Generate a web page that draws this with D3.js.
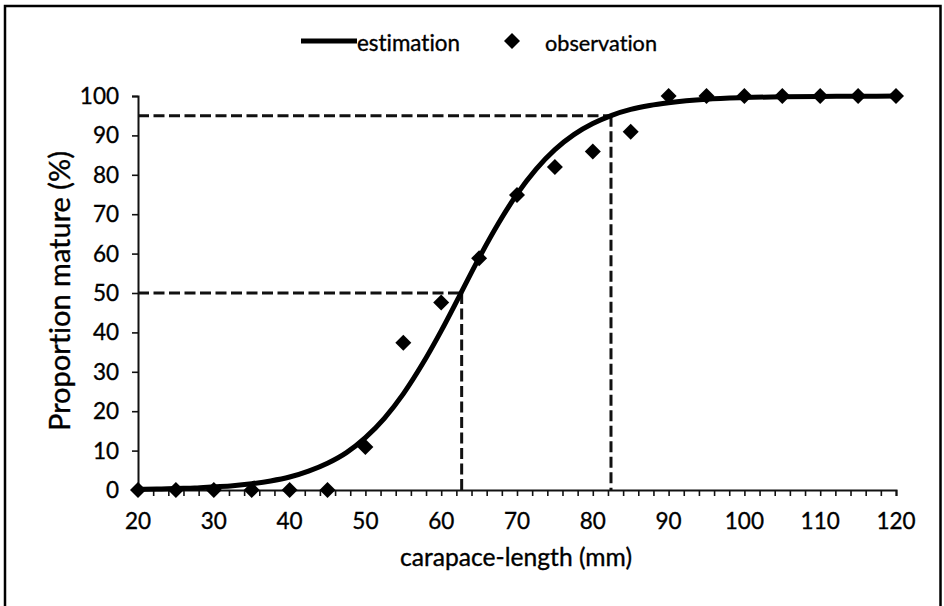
<!DOCTYPE html>
<html><head><meta charset="utf-8">
<script src="https://cdn.jsdelivr.net/npm/d3@7"></script>
<style>
html,body{margin:0;padding:0;background:#fff;}
svg{display:block;}
text{font-family:Lato,"Open Sans",sans-serif;fill:#000;stroke:#000;stroke-width:0.35px;font-variant-ligatures:none;font-feature-settings:"liga" 0,"clig" 0;}
</style></head>
<body>
<svg id="chart" width="944" height="606"></svg>
<script>
// ---- data ----
const obsLength = [20,25,30,35,40,45,50,55,60,65,70,75,80,85,90,95,100,105,110,115,120];
const obsMature = [0,0,0,0,0,0,10.9,37.4,47.6,58.8,74.9,82.0,85.9,90.9,100,100,100,100,100,100,100];
const estLength = [20,22.5,25,27.5,30,32.5,35,37.5,40,42.5,45,47.5,50,52.5,55,57.5,60,62.5,65,67.5,70,72.5,75,77.5,80,82.5,85,87.5,90,95,100,105,110,115,120];
const estMature = [0.2,0.25,0.4,0.5,0.8,1.1,1.6,2.3,3.3,4.8,6.8,9.5,13.3,18.2,24.4,31.9,40.4,49.6,58.9,67.5,75.1,81.4,86.4,90.2,93.0,95.1,96.6,97.6,98.3,99.2,99.6,99.8,99.9,99.95,99.98];
const xTicks = [20,30,40,50,60,70,80,90,100,110,120];
const yTicks = [0,10,20,30,40,50,60,70,80,90,100];
const L50 = 62.7, L95 = 82.4;
const seriesNames = ["estimation","observation"];
const xTitle = "carapace-length (mm)";
const yTitle = "Proportion mature (%)";

const svg = d3.select("#chart");
svg.append("rect").attr("x",0).attr("y",0).attr("width",944).attr("height",606).attr("fill","#fff");
svg.append("rect").attr("x",5).attr("y",6).attr("width",935.5).attr("height",640)
  .attr("fill","none").attr("stroke","#000").attr("stroke-width",2.5);

const x = d3.scaleLinear().domain([20,120]).range([138,896]);
const y = d3.scaleLinear().domain([0,100]).range([490,96]);

function fit(sel, w){
  const n = sel.node(); const fs = parseFloat(sel.attr("font-size"));
  const cur = n.getComputedTextLength();
  sel.attr("font-size", (fs*w/cur).toFixed(2));
}

// dashed reference lines
const dash = svg.append("g").attr("stroke","#111").attr("stroke-width",3).attr("stroke-dasharray","11,4.5").attr("fill","none");
dash.append("line").attr("x1",x(20)).attr("x2",x(L50)).attr("y1",y(50)).attr("y2",y(50));
dash.append("line").attr("x1",x(L50)).attr("x2",x(L50)).attr("y1",y(50)).attr("y2",y(0));
dash.append("line").attr("x1",x(20)).attr("x2",x(L95)).attr("y1",y(95)).attr("y2",y(95));
dash.append("line").attr("x1",x(L95)).attr("x2",x(L95)).attr("y1",y(95)).attr("y2",y(0));

// axes
const xAxis = d3.axisBottom(x).tickValues(d3.range(20,121,2)).tickSize(6).tickFormat("");
const gx = svg.append("g").attr("transform",`translate(0,${y(0)})`).call(xAxis);
gx.select(".domain").attr("stroke","#111").attr("stroke-width",2);
gx.selectAll(".tick line").attr("stroke","#111").attr("stroke-width",1.6);
const yAxis = d3.axisLeft(y).tickValues(yTicks).tickSize(6).tickFormat("");
const gy = svg.append("g").attr("transform",`translate(${x(20)},0)`).call(yAxis);
gy.select(".domain").attr("stroke","#111").attr("stroke-width",2);
gy.selectAll(".tick line").attr("stroke","#111").attr("stroke-width",1.6);

// tick labels
svg.append("g").selectAll("text").data(xTicks).join("text")
  .attr("x",d=>x(d)).attr("y",529).attr("text-anchor","middle").attr("font-size",22.5).text(d=>d);
svg.append("g").selectAll("text").data(yTicks).join("text")
  .attr("x",119).attr("y",d=>y(d)+8).attr("text-anchor","end").attr("font-size",22.5).text(d=>d);

// axis titles
const xt = svg.append("text").attr("x",516).attr("y",566).attr("text-anchor","middle").attr("font-size",24).text(xTitle);
fit(xt,232);
const yt = svg.append("text").attr("transform","translate(70,291) rotate(-90)").attr("text-anchor","middle").attr("font-size",26).text(yTitle);
fit(yt,280);

// curve
const line = d3.line().x((d,i)=>x(estLength[i])).y(d=>y(d)).curve(d3.curveMonotoneX);
svg.append("path").attr("d",line(estMature)).attr("fill","none").attr("stroke","#000").attr("stroke-width",5).attr("stroke-linejoin","round");

// observations
const diamond = d3.symbol().type(d3.symbolSquare).size(128);
svg.append("g").selectAll("path").data(obsMature).join("path")
  .attr("d",diamond).attr("fill","#000")
  .attr("transform",(d,i)=>`translate(${x(obsLength[i])},${y(d)}) rotate(45)`);

// legend
const lg = svg.append("g");
lg.append("line").attr("x1",301).attr("x2",357).attr("y1",41).attr("y2",41).attr("stroke","#000").attr("stroke-width",5);
const t1 = lg.append("text").attr("x",357).attr("y",51).attr("font-size",22).text(seriesNames[0]);
fit(t1,103);
lg.append("path").attr("d",diamond).attr("fill","#000").attr("transform","translate(512,41) rotate(45)");
const t2 = lg.append("text").attr("x",545).attr("y",51).attr("font-size",22).text(seriesNames[1]);
fit(t2,112);
</script>
</body></html>
